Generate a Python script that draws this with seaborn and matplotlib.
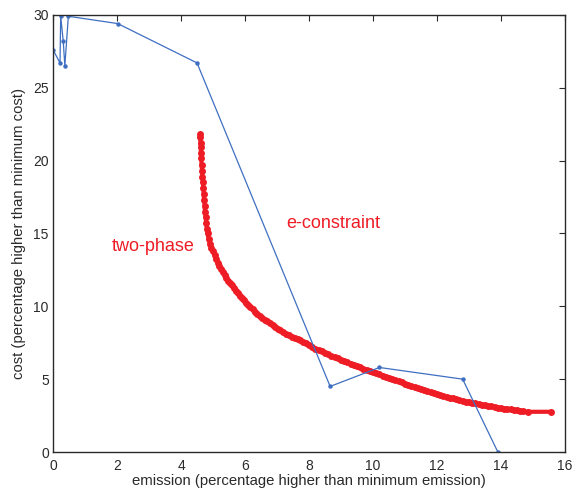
import matplotlib
matplotlib.use("Agg")
import matplotlib.pyplot as plt
import seaborn as sns
import pandas as pd

# e-constraint solutions (blue)
econ_x = [0.0, 0.22, 0.24, 0.32, 0.37, 0.48, 2.02, 4.50, 8.66, 10.20, 12.80, 13.90]
econ_y = [27.6, 26.7, 29.9, 28.2, 26.5, 29.9, 29.4, 26.7, 4.5, 5.8, 5.0, 0.0]

# two-phase solutions (red)
tp_x = [4.60, 4.60, 4.61, 4.62, 4.62, 4.63, 4.65, 4.66, 4.67, 4.68, 4.70, 4.71, 4.72,
        4.74, 4.75, 4.77, 4.79, 4.81, 4.83, 4.86, 4.90, 4.95, 5.00, 5.05, 5.10,
        5.15, 5.20, 5.25, 5.30, 5.36, 5.42, 5.48, 5.54, 5.60, 5.66, 5.72, 5.78, 5.84,
        5.90, 5.96, 6.03, 6.10, 6.17, 6.24, 6.31, 6.38, 6.46, 6.54, 6.62, 6.70, 6.78,
        6.86, 6.94, 7.02, 7.10, 7.19, 7.28, 7.37, 7.46, 7.55, 7.64, 7.73, 7.82, 7.91,
        8.00, 8.10, 8.20, 8.30, 8.40, 8.50, 8.60, 8.70, 8.80, 8.90, 9.00, 9.10, 9.20,
        9.30, 9.40, 9.50, 9.60, 9.70, 9.80, 9.90, 10.00, 10.10, 10.20, 10.30, 10.40,
        10.50, 10.60, 10.70, 10.80, 10.90, 11.00, 11.10, 11.20, 11.30, 11.40, 11.50,
        11.60, 11.70, 11.80, 11.90, 12.00, 12.10, 12.20, 12.30, 12.40, 12.50, 12.60,
        12.70, 12.80, 12.90, 13.00, 13.10, 13.20, 13.30, 13.40, 13.50, 13.60, 13.70,
        13.80, 13.90, 14.00, 14.10, 14.20, 14.30, 14.40, 14.50, 14.60, 14.70, 14.83,
        15.55]
tp_y = [21.8, 21.6, 21.2, 20.9, 20.5, 20.2, 19.7, 19.3, 18.9, 18.5, 18.1, 17.7, 17.3,
        16.9, 16.5, 16.1, 15.7, 15.3, 15.0, 14.65, 14.3, 14.0, 13.8, 13.5, 13.22,
        12.98, 12.76, 12.55, 12.34, 12.12, 11.94, 11.76, 11.60, 11.44, 11.26, 11.08,
        10.90, 10.73, 10.56, 10.41, 10.25, 10.09, 9.94, 9.79, 9.64, 9.50, 9.36, 9.22,
        9.09, 8.96, 8.83, 8.70, 8.57, 8.45, 8.34, 8.22, 8.11, 8.01, 7.92, 7.84, 7.76,
        7.67, 7.56, 7.45, 7.33, 7.21, 7.10, 7.00, 6.90, 6.80, 6.70, 6.60, 6.51, 6.42,
        6.34, 6.25, 6.16, 6.07, 5.98, 5.89, 5.80, 5.72, 5.63, 5.55, 5.47, 5.39, 5.32,
        5.24, 5.16, 5.08, 5.01, 4.93, 4.86, 4.78, 4.70, 4.62, 4.54, 4.47, 4.39, 4.31,
        4.24, 4.16, 4.09, 4.02, 3.96, 3.90, 3.85, 3.79, 3.73, 3.68, 3.62, 3.57, 3.51,
        3.46, 3.42, 3.38, 3.34, 3.30, 3.25, 3.21, 3.17, 3.13, 3.09, 3.05, 3.01, 2.98,
        2.95, 2.92, 2.89, 2.86, 2.83, 2.81, 2.76, 2.76]

x_ticks = [0, 2, 4, 6, 8, 10, 12, 14, 16]
y_ticks = [0, 5, 10, 15, 20, 25, 30]

sns.set_theme(style="white")
plt.rcParams['font.family'] = ['Liberation Sans', 'DejaVu Sans']

BLUE = '#3f6fc2'
RED = '#ee1c25'
INK = '#2a2a2a'

fig = plt.figure(figsize=(5.76, 4.94), dpi=100)
ax = fig.add_axes([0.092, 0.085, 0.889, 0.885])

df_e = pd.DataFrame({'x': econ_x, 'y': econ_y})
df_t = pd.DataFrame({'x': tp_x, 'y': tp_y})

sns.lineplot(data=df_t, x='x', y='y', sort=False, ax=ax, color=RED, lw=3.0,
             marker='o', markersize=5.0, markeredgewidth=0, estimator=None)
sns.lineplot(data=df_e, x='x', y='y', sort=False, ax=ax, color=BLUE, lw=0.9,
             marker='o', markersize=3.2, markeredgewidth=0, estimator=None)

ax.set_xlim(0, 16)
ax.set_ylim(0, 30)
ax.set_xticks(x_ticks)
ax.set_yticks(y_ticks)
ax.tick_params(axis='both', direction='in', length=4, width=0.8, top=True, right=True,
               labelsize=10, colors=INK)
ax.tick_params(axis='x', pad=5)
ax.tick_params(axis='y', pad=3)
for s in ax.spines.values():
    s.set_color(INK)
    s.set_linewidth(1.0)

ax.set_xlabel('emission (percentage higher than minimum emission)', fontsize=10.7,
              color=INK, labelpad=1)
ax.set_ylabel('cost (percentage higher than minimum cost)', fontsize=10.7,
              color=INK, labelpad=5)

ax.text(1.84, 14.1, 'two-phase', color=RED, fontsize=13, va='center', ha='left')
ax.text(7.28, 15.65, 'e-constraint', color=RED, fontsize=13, va='center', ha='left')

fig.savefig('out.png', dpi=100)
